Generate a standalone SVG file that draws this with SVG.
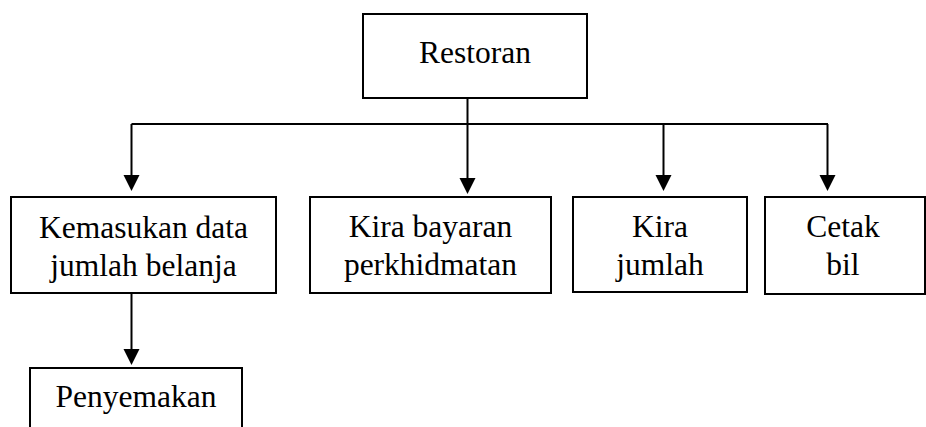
<svg xmlns="http://www.w3.org/2000/svg" width="926" height="427" viewBox="0 0 926 427">
<style>
  .box { fill: #ffffff; stroke: #000000; stroke-width: 2; }
  .lbl { font-family: "Times New Roman", "Liberation Serif", Times, serif; font-size: 31.5px; fill: #000000; text-anchor: middle; }
  .conn { fill: none; stroke: #000000; stroke-width: 2; }
  .head { fill: #000000; stroke: none; }
</style>
<rect width="926" height="427" fill="#ffffff"/>
<g id="connectors">
  <path class="conn" d="M467.5,98 V124"/>
  <path class="conn" d="M131.5,124 H828"/>
  <path class="conn" d="M131.5,124 V182"/>
  <path class="head" d="M123.5,175 H139.5 L131.5,191 Z"/>
  <path class="conn" d="M467.5,124 V182"/>
  <path class="head" d="M459.5,178 H475.5 L467.5,194 Z"/>
  <path class="conn" d="M663.5,124 V182"/>
  <path class="head" d="M655.5,175 H671.5 L663.5,191 Z"/>
  <path class="conn" d="M827.5,124 V182"/>
  <path class="head" d="M819.5,175 H835.5 L827.5,191 Z"/>
  <path class="conn" d="M131.5,293 V356"/>
  <path class="head" d="M123.5,349 H139.5 L131.5,365 Z"/>
</g>
<g id="node-restoran">
  <rect class="box" x="363" y="14" width="224" height="84"/>
  <text class="lbl" x="475" y="63">Restoran</text>
</g>
<g id="node-kemasukan">
  <rect class="box" x="11" y="197" width="265" height="96"/>
  <text class="lbl" x="143.5" y="238">Kemasukan data</text>
  <text class="lbl" x="143.5" y="276">jumlah belanja</text>
</g>
<g id="node-kira-bayaran">
  <rect class="box" x="310" y="197" width="241" height="96"/>
  <text class="lbl" x="430.5" y="237">Kira bayaran</text>
  <text class="lbl" x="430.5" y="275">perkhidmatan</text>
</g>
<g id="node-kira-jumlah">
  <rect class="box" x="573" y="197" width="174" height="95"/>
  <text class="lbl" x="660" y="237">Kira</text>
  <text class="lbl" x="660" y="275">jumlah</text>
</g>
<g id="node-cetak-bil">
  <rect class="box" x="765" y="197" width="160" height="97"/>
  <text class="lbl" x="843" y="237">Cetak</text>
  <text class="lbl" x="843" y="275">bil</text>
</g>
<g id="node-penyemakan">
  <rect class="box" x="30" y="368" width="212" height="80"/>
  <text class="lbl" x="136" y="407">Penyemakan</text>
</g>
</svg>
